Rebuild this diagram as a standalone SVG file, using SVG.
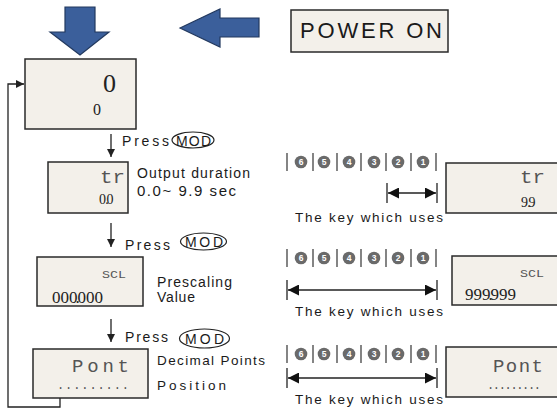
<svg xmlns="http://www.w3.org/2000/svg" xmlns:xlink="http://www.w3.org/1999/xlink" width="557" height="409" viewBox="0 0 557 409">
<style>
.box{fill:#f3f0ea;stroke:#2a2a2a;stroke-width:1.5}
.blue{fill:#3b5f9b;stroke:#22395f;stroke-width:1.2}
.lbl{font-family:"Liberation Sans",Arial,sans-serif;fill:#1a1a1a}
.seg{font-family:"Liberation Mono","DejaVu Sans Mono",monospace;fill:#555}
.num{font-family:"Liberation Serif","Times New Roman",serif;fill:#222}
.ln{stroke:#222;stroke-width:1.3;fill:none}
.kb{stroke:#333;stroke-width:1.2}
.kc{fill:#6a6a6a}
.kn{font-family:"Liberation Sans",Arial,sans-serif;font-size:8.5px;font-weight:bold;fill:#fff;text-anchor:middle}
</style>
<defs>
<marker id="ah" viewBox="0 0 10 10" refX="10" refY="5" markerWidth="8" markerHeight="8" markerUnits="userSpaceOnUse" orient="auto-start-reverse"><path d="M0,0 L10,5 L0,10 Z" fill="#222"/></marker>
<marker id="dh" viewBox="0 0 10 10" refX="10" refY="5" markerWidth="11" markerHeight="11" markerUnits="userSpaceOnUse" orient="auto-start-reverse"><path d="M0,0 L10,5 L0,10 Z" fill="#111"/></marker>
<g id="keys">
<line class="kb" x1="287" y1="-9" x2="287" y2="9"/>
<line class="kb" x1="313" y1="-9" x2="313" y2="9"/>
<line class="kb" x1="337" y1="-9" x2="337" y2="9"/>
<line class="kb" x1="361" y1="-9" x2="361" y2="9"/>
<line class="kb" x1="386" y1="-9" x2="386" y2="9"/>
<line class="kb" x1="411" y1="-9" x2="411" y2="9"/>
<line class="kb" x1="436" y1="-9" x2="436" y2="9"/>
<circle class="kc" cx="301" cy="0" r="6.3"/><text class="kn" x="301" y="3">6</text>
<circle class="kc" cx="324" cy="0" r="6.3"/><text class="kn" x="324" y="3">5</text>
<circle class="kc" cx="349" cy="0" r="6.3"/><text class="kn" x="349" y="3">4</text>
<circle class="kc" cx="374" cy="0" r="6.3"/><text class="kn" x="374" y="3">3</text>
<circle class="kc" cx="398" cy="0" r="6.3"/><text class="kn" x="398" y="3">2</text>
<circle class="kc" cx="423" cy="0" r="6.3"/><text class="kn" x="423" y="3">1</text>
</g>
</defs>

<g id="power-arrows">
<path class="blue" d="M65,7 H95 V32 H109 L80,55 L50,32 H65 Z"/>
<path class="blue" d="M180,28 L220,9 V18 H259 V37 H220 V47 Z"/>
</g>

<g id="power-on">
<rect class="box" x="291" y="10" width="157" height="42"/>
<text class="lbl" x="300" y="38" font-size="22" textLength="142" lengthAdjust="spacing">POWER ON</text>
</g>

<g id="display-0">
<rect class="box" x="25" y="59" width="111" height="70"/>
<text class="num" x="103" y="92" font-size="26">0</text>
<text class="num" x="93" y="115" font-size="16">0</text>
</g>

<g id="display-tr">
<rect class="box" x="48" y="162" width="80" height="51"/>
<text class="seg" x="100" y="183" font-size="19" textLength="25" lengthAdjust="spacingAndGlyphs">tr</text>
<text class="num" font-size="14" y="204" x="99 105.3 106.5">0.0</text>
<text class="lbl" x="137" y="178" font-size="14" textLength="113" lengthAdjust="spacing">Output duration</text>
<text class="lbl" x="137" y="196" font-size="15" textLength="99" lengthAdjust="spacing">0.0~ 9.9 sec</text>
</g>

<g id="display-scl">
<rect class="box" x="37" y="257" width="106" height="49"/>
<text class="seg" x="102" y="278" font-size="11" textLength="24" lengthAdjust="spacingAndGlyphs">SCL</text>
<text class="num" font-size="17" y="303" x="52 60.5 69 75.6 77.5 86 94.5">000.000</text>
<text class="lbl" x="157" y="287" font-size="14" textLength="75" lengthAdjust="spacing">Prescaling</text>
<text class="lbl" x="157" y="302" font-size="14" textLength="38" lengthAdjust="spacing">Value</text>
</g>

<g id="display-pont">
<rect class="box" x="33" y="349" width="115" height="49"/>
<text class="seg" x="72" y="372" font-size="19" textLength="57" lengthAdjust="spacing">Pont</text>
<text class="seg" x="57" y="389" font-size="12" textLength="72" lengthAdjust="spacing">.........</text>
<text class="lbl" x="157" y="365" font-size="13.5" textLength="108" lengthAdjust="spacing">Decimal Points</text>
<text class="lbl" x="157" y="390" font-size="13.5" textLength="69" lengthAdjust="spacing">Position</text>
</g>

<g id="press-mod-1">
<text class="lbl" x="122" y="146" font-size="14" textLength="47" lengthAdjust="spacing">Press</text>
<ellipse cx="193" cy="140" rx="21" ry="8" fill="none" stroke="#222" stroke-width="1.2"/>
<text class="lbl" x="176" y="146" font-size="14" textLength="35" lengthAdjust="spacing">MOD</text>
</g>
<g id="press-mod-2">
<text class="lbl" x="125" y="250" font-size="14" textLength="45" lengthAdjust="spacing">Press</text>
<ellipse cx="203.5" cy="241.5" rx="23" ry="8.5" fill="none" stroke="#222" stroke-width="1.2"/>
<text class="lbl" x="185" y="247" font-size="14" textLength="38" lengthAdjust="spacing">MOD</text>
</g>
<g id="press-mod-3">
<text class="lbl" x="125" y="342" font-size="14" textLength="43" lengthAdjust="spacing">Press</text>
<ellipse cx="204.5" cy="338.5" rx="25" ry="9.5" fill="none" stroke="#222" stroke-width="1.2"/>
<text class="lbl" x="185" y="344" font-size="14" textLength="39" lengthAdjust="spacing">MOD</text>
</g>

<g id="keys-row-1">
<use xlink:href="#keys" href="#keys" y="162"/>
<text class="lbl" x="295" y="222" font-size="13.5" textLength="148" lengthAdjust="spacing">The key which uses</text>
</g>
<g id="keys-row-2">
<use xlink:href="#keys" href="#keys" y="258"/>
<text class="lbl" x="295" y="316" font-size="13.5" textLength="148" lengthAdjust="spacing">The key which uses</text>
</g>
<g id="keys-row-3">
<use xlink:href="#keys" href="#keys" y="354"/>
<text class="lbl" x="295" y="404" font-size="13.5" textLength="148" lengthAdjust="spacing">The key which uses</text>
</g>

<g id="result-tr">
<rect class="box" x="446" y="163" width="116" height="50"/>
<text class="seg" x="520" y="183" font-size="19" textLength="25" lengthAdjust="spacingAndGlyphs">tr</text>
<text class="num" font-size="14" y="207" x="521 527.3 528.5">9.9</text>
</g>
<g id="result-scl">
<rect class="box" x="452" y="256" width="110" height="49"/>
<text class="seg" x="520" y="277" font-size="11" textLength="24" lengthAdjust="spacingAndGlyphs">SCL</text>
<text class="num" font-size="17" y="300" x="465 473.5 482 488.6 490.5 499 507.5">999.999</text>
</g>
<g id="result-pont">
<rect class="box" x="446" y="347" width="116" height="50"/>
<text class="seg" x="493" y="372" font-size="19" textLength="50" lengthAdjust="spacing">Pont</text>
<text class="seg" x="487" y="389" font-size="12" textLength="54" lengthAdjust="spacing">.........</text>
</g>

<g id="connectors">
<line class="ln" x1="111" y1="134" x2="111" y2="157" marker-end="url(#ah)"/>
<line class="ln" x1="111" y1="223" x2="111" y2="247" marker-end="url(#ah)"/>
<line class="ln" x1="111" y1="319" x2="111" y2="342" marker-end="url(#ah)"/>
<path class="ln" d="M60,398 V407 H8 V84 H24" marker-end="url(#ah)"/>
<line class="ln" x1="387" y1="183" x2="387" y2="203"/>
<line class="ln" x1="437" y1="183" x2="437" y2="203"/>
<line class="ln" x1="388" y1="193" x2="436" y2="193" marker-start="url(#dh)" marker-end="url(#dh)"/>
<line class="ln" x1="287" y1="280" x2="287" y2="300"/>
<line class="ln" x1="437" y1="280" x2="437" y2="300"/>
<line class="ln" x1="288" y1="290" x2="436" y2="290" marker-start="url(#dh)" marker-end="url(#dh)"/>
<line class="ln" x1="287" y1="368" x2="287" y2="388"/>
<line class="ln" x1="437" y1="368" x2="437" y2="388"/>
<line class="ln" x1="288" y1="378" x2="436" y2="378" marker-start="url(#dh)" marker-end="url(#dh)"/>
</g>
</svg>
